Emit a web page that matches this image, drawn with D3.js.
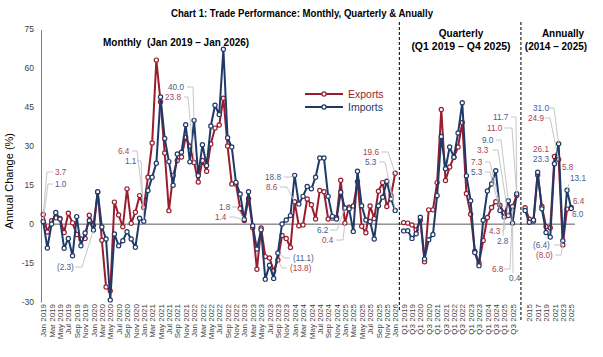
<!DOCTYPE html>
<html><head><meta charset="utf-8">
<script src="https://cdn.jsdelivr.net/npm/d3@7"></script>
<style>
body{margin:0;background:#fff;}
svg{display:block;font-family:"Liberation Sans",Arial,sans-serif;}
</style></head><body>
<svg id="c" width="603" height="357"></svg>
<script>
// ---------- categories ----------
const monthNames = ["Jan","Feb","Mar","Apr","May","Jun","Jul","Aug","Sep","Oct","Nov","Dec"];
const monthYears = [2019,2020,2021,2022,2023,2024,2025];
const monthCats = [];
monthYears.forEach(yr => monthNames.forEach(m => monthCats.push(m + " " + yr)));
monthCats.push("Jan 2026");
const quarterCats = ["Q1 2019","Q2 2019","Q3 2019","Q4 2019","Q1 2020","Q2 2020","Q3 2020","Q4 2020",
  "Q1 2021","Q2 2021","Q3 2021","Q4 2021","Q1 2022","Q2 2022","Q3 2022","Q4 2022",
  "Q1 2023","Q2 2023","Q3 2023","Q4 2023","Q1 2024","Q2 2024","Q3 2024","Q4 2024",
  "Q1 2025","Q2 2025","Q3 2025","Q4 2025"];
const yearCats = ["2014","2015","2016","2017","2018","2019","2020","2021","2022","2023","2024","2025"];

// ---------- series values (annual % change) ----------
const monthlyExports = [3.7,-3.0,1.3,2.5,2.2,-3.2,4.2,0.5,-4.0,-5.7,-5.5,3.4,
  -0.5,12.3,-6.2,-24.2,-25.7,8.5,3.5,-1.0,13.6,0.3,4.6,11.0,
  6.4,18.1,31.3,63.2,47.2,27.4,5.2,18.7,24.5,25.9,33.5,30.0,
  23.8,16.2,24.5,20.4,30.9,37.0,38.2,48.5,30.1,15.5,15.5,6.0,
  1.4,9.8,-1.4,-17.4,-1.5,-12.5,-13.0,-18.1,-13.8,-4.4,-5.5,-9.0,
  8.6,-0.6,-0.3,9.7,7.5,2.0,13.0,12.5,2.0,2.3,2.6,16.9,
  0.4,6.5,7.0,16.4,-0.8,-3.3,7.0,2.2,12.7,16.0,6.8,11.0,
  19.6];
const monthlyImports = [1.0,-9.2,0.1,4.5,2.0,-9.3,-5.5,-12.2,2.9,-8.3,-3.4,1.4,
  -2.3,12.5,-1.1,-5.7,-29.2,-3.8,-8.3,-6.4,-2.9,-5.7,-8.9,2.3,
  1.1,13.0,18.1,23.5,49.0,33.0,24.1,15.0,27.0,27.7,38.3,24.0,
  40.0,18.7,30.6,22.6,37.8,45.8,42.2,67.4,33.3,29.7,16.1,11.6,
  1.8,12.5,-0.6,-9.6,-2.2,-21.2,-15.8,-20.9,-11.1,0.1,1.6,3.3,
  18.8,7.8,10.7,14.5,13.6,18.1,25.5,25.5,10.7,3.0,2.0,12.3,
  6.2,5.9,-2.8,20.4,7.1,1.6,1.0,-5.7,7.1,10.4,16.5,9.7,
  5.3];
const quarterlyExports = [0.6,0.4,-0.3,-2.2,1.5,-14.5,5.5,5.5,16.0,44.2,16.8,22.0,
  25.8,29.7,39.2,11.8,3.8,-10.4,-15.0,-6.3,2.6,6.4,8.6,7.3,4.3,3.3,6.8,11.0];
const quarterlyImports = [-2.6,-2.5,-5.5,-3.7,2.7,-13.4,-6.0,-4.0,11.0,33.8,21.3,29.7,
  25.8,35.1,46.8,18.6,9.0,-10.9,-16.0,1.5,12.8,15.5,20.6,5.3,2.8,9.0,0.4,11.7];
const annualExports = [6.3,1.9,1.1,18.9,6.8,-1.0,-1.4,26.1,24.9,-8.0,5.8,6.4];
const annualImports = [5.3,0.7,1.6,20.0,5.9,-3.2,-5.0,23.3,31.0,-6.4,13.1,6.0];

// ---------- axis ticks ----------
const yTicks = [-30,-15,0,15,30,45,60,75];
const yTickLabels = ["-30","-15","0","15","30","45","60","75"];
const xTickLabels = [
  ...monthCats.filter((d,i)=>i%2===0).map(d=>"M|"+d),
  ...quarterCats.filter((d,i)=>i%2===0).map(d=>"Q|"+d),
  ...yearCats.filter((d,i)=>i%2===1).map(d=>"A|"+d)
];

// ---------- annotations (text + label layout) ----------
const annotations = [
  {sec:"M",i:0, s:"exp",t:"3.7",  tx:55, ty:172,lead:[[53,172],[47,172]]},
  {sec:"M",i:0, s:"imp",t:"1.0",  tx:55, ty:184,lead:[[53,184],[48,184]]},
  {sec:"M",i:12,s:"imp",t:"(2.3)",tx:57, ty:267,lead:[[75,267],[82,267]]},
  {sec:"M",i:24,s:"exp",t:"6.4",  tx:118,ty:151,lead:[[132,151],[137,151]]},
  {sec:"M",i:24,s:"imp",t:"1.1",  tx:125,ty:161,lead:[[137,161],[141,161]]},
  {sec:"M",i:36,s:"imp",t:"40.0", tx:168,ty:87, lead:[[187,87],[193,87]]},
  {sec:"M",i:36,s:"exp",t:"23.8", tx:165,ty:97, lead:[[184,97],[188,97]]},
  {sec:"M",i:48,s:"imp",t:"1.8",  tx:219,ty:207,lead:[[232,207],[237,207]]},
  {sec:"M",i:48,s:"exp",t:"1.4",  tx:215,ty:217,lead:[[229,217],[235,217]]},
  {sec:"M",i:56,s:"imp",t:"(11.1)",tx:293,ty:258,lead:[[290,258],[285,258]]},
  {sec:"M",i:56,s:"exp",t:"(13.8)",tx:290,ty:268,lead:[[287,268],[282,268]]},
  {sec:"M",i:60,s:"imp",t:"18.8", tx:265,ty:177,lead:[[284,177],[290,177]]},
  {sec:"M",i:60,s:"exp",t:"8.6",  tx:266,ty:187,lead:[[280,187],[287,187]]},
  {sec:"M",i:72,s:"imp",t:"6.2",  tx:317,ty:230,lead:[[330,230],[337,230]]},
  {sec:"M",i:72,s:"exp",t:"0.4",  tx:322,ty:240,lead:[[336,240],[343,240]]},
  {sec:"M",i:84,s:"exp",t:"19.6", tx:363,ty:152,lead:[[381,152],[388,152]]},
  {sec:"M",i:84,s:"imp",t:"5.3",  tx:365,ty:162,lead:[[379,162],[385,162]]},
  {sec:"Q",i:27,s:"imp",t:"11.7", tx:493,ty:117,lead:[[511,117],[516,117]]},
  {sec:"Q",i:27,s:"exp",t:"11.0", tx:487,ty:128,lead:[[504,128],[512,128]]},
  {sec:"Q",i:25,s:"imp",t:"9.0",  tx:482,ty:140,lead:[[496,140],[501,140]]},
  {sec:"Q",i:25,s:"exp",t:"3.3",  tx:477,ty:150,lead:[[493,150],[498,150]]},
  {sec:"Q",i:23,s:"exp",t:"7.3",  tx:471,ty:162,lead:[[485,162],[490,162]]},
  {sec:"Q",i:23,s:"imp",t:"5.3",  tx:471,ty:172,lead:[[485,172],[490,172]]},
  {sec:"Q",i:24,s:"exp",t:"4.3",  tx:489,ty:231,lead:[[502,231],[505,229]]},
  {sec:"Q",i:24,s:"imp",t:"2.8",  tx:497,ty:241,lead:[[503,236]]},
  {sec:"Q",i:26,s:"exp",t:"6.8",  tx:492,ty:269,lead:[[504,269],[510,269]]},
  {sec:"Q",i:26,s:"imp",t:"0.4",  tx:509,ty:278,lead:[[513,273]]},
  {sec:"A",i:8, s:"imp",t:"31.0", tx:533,ty:108,lead:[[549,108],[554,108]]},
  {sec:"A",i:8, s:"exp",t:"24.9", tx:528,ty:118,lead:[[545,118],[550,118]]},
  {sec:"A",i:7, s:"exp",t:"26.1", tx:533,ty:149,lead:null},
  {sec:"A",i:7, s:"imp",t:"23.3", tx:533,ty:159,lead:null},
  {sec:"A",i:10,s:"exp",t:"5.8",  tx:562,ty:167,lead:null},
  {sec:"A",i:10,s:"imp",t:"13.1", tx:570,ty:178,lead:[[569,184]]},
  {sec:"A",i:11,s:"exp",t:"6.4",  tx:573,ty:201,lead:null},
  {sec:"A",i:11,s:"imp",t:"6.0",  tx:572,ty:214,lead:null},
  {sec:"A",i:9, s:"imp",t:"(6.4)",tx:533,ty:245,lead:[[554,245],[561,245]]},
  {sec:"A",i:9, s:"exp",t:"(8.0)",tx:536,ty:255,lead:[[555,255],[561,255]]}
];

// ---------- styles ----------
const colExp = "#9a1d2f", colImp = "#1f3a68";
const colExpTxt = "#a8424f", colImpTxt = "#3f5e8c";
const fontLabel = 8.2;

// ---------- scales ----------
const keys = [...monthCats.map(d=>"M|"+d),"gap1",...quarterCats.map(d=>"Q|"+d),"gap2",...yearCats.map(d=>"A|"+d)];
const x = d3.scalePoint().domain(keys).range([43.2,571.2]);
const y = d3.scaleLinear().domain([-30,75]).range([302,29.5]);
const svg = d3.select("#c");
svg.append("rect").attr("width",603).attr("height",357).attr("fill","#fff");

const secCats = {M:monthCats,Q:quarterCats,A:yearCats};
const secData = {
  M:{exp:monthlyExports,imp:monthlyImports},
  Q:{exp:quarterlyExports,imp:quarterlyImports},
  A:{exp:annualExports,imp:annualImports}
};
const px = (sec,i)=>x(sec+"|"+secCats[sec][i]);

// title
svg.append("text").attr("x",302).attr("y",17).attr("text-anchor","middle")
  .attr("font-weight","bold").attr("font-size",11.5).attr("fill","#000")
  .attr("textLength",262).attr("lengthAdjust","spacingAndGlyphs")
  .text("Chart 1: Trade Performance: Monthly, Quarterly & Anually");

// y axis: line from the axis generator, labels placed from the scale
const yAxis = svg.append("g").attr("transform","translate(41,0)")
  .call(d3.axisLeft(y).tickValues(yTicks).tickSize(0).tickFormat(""));
yAxis.select(".domain").attr("stroke","#7f7f7f");
yAxis.selectAll(".tick").remove();
svg.append("g").selectAll("text").data(yTicks).enter().append("text")
  .attr("x",34).attr("y",d=>y(d)).attr("dy","0.35em").attr("text-anchor","end")
  .attr("font-size",8.5).attr("fill","#404040").text((d,i)=>yTickLabels[i]);

svg.append("text").attr("transform","translate(13,181) rotate(-90)")
  .attr("text-anchor","middle").attr("font-size",11).attr("fill","#000")
  .text("Annual Change (%)");

// x axis (labels only)
const xAxis = svg.append("g").attr("transform","translate(0,302)")
  .call(d3.axisBottom(x).tickValues(xTickLabels).tickSize(0).tickFormat(d=>d.split("|")[1]));
xAxis.select(".domain").remove();
xAxis.selectAll("text").attr("transform","rotate(-90)").attr("text-anchor","end")
  .attr("x",-2).attr("y",0).attr("dy","0.33em").attr("font-size",8).attr("fill","#404040")
  .attr("font-family",'"Liberation Sans",Arial,sans-serif');

// zero line
svg.append("line").attr("x1",41).attr("x2",575).attr("y1",y(0)).attr("y2",y(0))
  .attr("stroke","#595959").attr("stroke-width",1);

// dashed separators at gap categories
[["gap1",312],["gap2",322]].forEach(([k,yb])=>{
  svg.append("line").attr("x1",x(k)).attr("x2",x(k)).attr("y1",22).attr("y2",yb)
    .attr("stroke","#222").attr("stroke-width",1.2).attr("stroke-dasharray","3,2");
});

// section headers
svg.append("text").attr("x",103).attr("y",46).attr("font-weight","bold").attr("font-size",10)
  .attr("xml:space","preserve").text("Monthly  (Jan 2019 \u2013 Jan 2026)");
svg.append("text").attr("x",461).attr("y",37).attr("text-anchor","middle").attr("font-weight","bold").attr("font-size",10).text("Quarterly");
svg.append("text").attr("x",461).attr("y",50).attr("text-anchor","middle").attr("font-weight","bold").attr("font-size",10.5).text("(Q1 2019 \u2013 Q4 2025)");
svg.append("text").attr("x",563).attr("y",37).attr("text-anchor","middle").attr("font-weight","bold").attr("font-size",10).text("Annually");
svg.append("text").attr("x",556).attr("y",50).attr("text-anchor","middle").attr("font-weight","bold").attr("font-size",10).text("(2014 \u2013 2025)");

// series
const line = d3.line().x(d=>d[0]).y(d=>d[1]);
[["exp",colExp],["imp",colImp]].forEach(([s,col])=>{
  const g = svg.append("g");
  ["M","Q","A"].forEach(sec=>{
    const pts = secData[sec][s].map((v,i)=>[px(sec,i),y(v)]);
    g.append("path").attr("d",line(pts)).attr("fill","none").attr("stroke",col)
      .attr("stroke-width",2).attr("stroke-linejoin","round");
    g.selectAll(null).data(pts).enter().append("circle")
      .attr("cx",d=>d[0]).attr("cy",d=>d[1]).attr("r",2.1)
      .attr("fill","#fff").attr("stroke",col).attr("stroke-width",1.2);
  });
});

// legend
[["Exports",colExp,94],["Imports",colImp,107]].forEach(([t,col,ly])=>{
  svg.append("line").attr("x1",305).attr("x2",343).attr("y1",ly).attr("y2",ly).attr("stroke",col).attr("stroke-width",2);
  svg.append("circle").attr("cx",324).attr("cy",ly).attr("r",2.1).attr("fill","#fff").attr("stroke",col).attr("stroke-width",1.2);
  svg.append("text").attr("x",348).attr("y",ly).attr("dy","0.35em").attr("font-size",10.5).attr("fill",col).text(t);
});

// annotations
annotations.forEach(a=>{
  const v = secData[a.sec][a.s][a.i];
  const pt = [px(a.sec,a.i), y(v)];
  if(a.lead){
    svg.append("path").attr("d",line([...a.lead,pt])).attr("fill","none")
      .attr("stroke","#bfbfbf").attr("stroke-width",0.9);
  }
  svg.append("text").attr("x",a.tx).attr("y",a.ty).attr("dy","0.35em")
    .attr("font-size",fontLabel).attr("fill",a.s==="exp"?colExpTxt:colImpTxt).text(a.t);
});

// keep the corner left of the y labels clear, as in the reference
svg.append("rect").attr("x",0).attr("y",20).attr("width",22).attr("height",22).attr("fill","#fff");
</script>
</body></html>
